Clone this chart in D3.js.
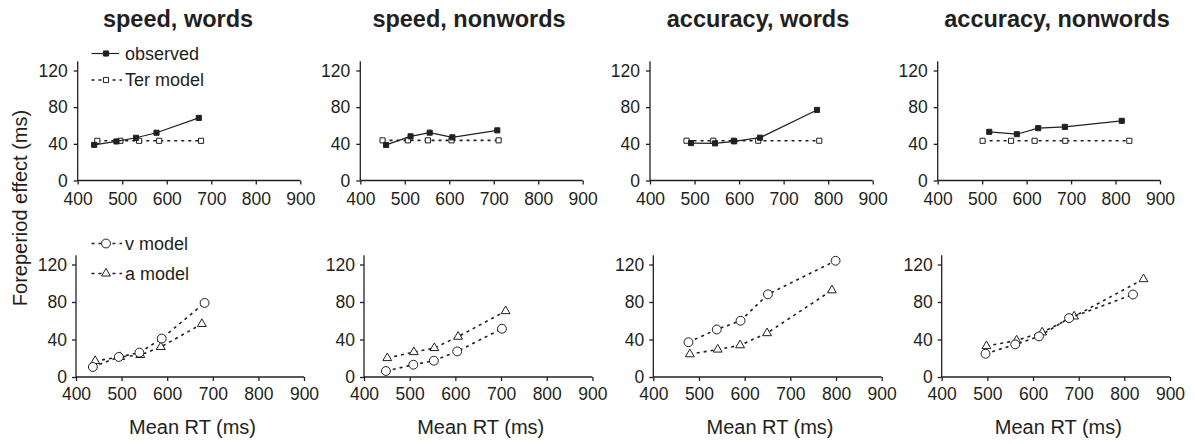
<!DOCTYPE html>
<html><head><meta charset="utf-8">
<script src="https://cdn.jsdelivr.net/npm/d3@7"></script>
<style>
body{margin:0;background:#fff;}
text{font-family:"Liberation Sans",Arial,Helvetica,sans-serif;fill:#231f20;}
</style></head>
<body><svg id="chart" width="1195" height="444"></svg>
<script>
// ---- data ----
const panelTitles = ["speed, words", "speed, nonwords", "accuracy, words", "accuracy, nonwords"];
const xTicks = [400, 500, 600, 700, 800, 900];
const yTicks = [0, 40, 80, 120];
const observedRT = [[437, 487, 531, 577, 672], [458, 513, 556, 607, 708], [492, 546, 589, 647, 775], [516, 578, 626, 686, 814]];
const observedFP = [[38.9, 42.6, 46.6, 52.1, 68.3], [38.8, 48.2, 52.2, 47.1, 54.7], [40.8, 40.5, 42.7, 46.7, 77], [53.1, 50.5, 57.1, 58.5, 65.1]];
const terRT = [[444, 496, 538, 583, 677], [450, 507, 552, 605, 711], [482, 542, 588, 643, 780], [501, 565, 618, 687, 831]];
const terFP = [[43.3, 43.3, 43.3, 43.3, 43.3], [43.8, 43.8, 43.8, 43.8, 43.8], [43.4, 43.4, 43.4, 43.4, 43.4], [43.3, 43.3, 43.3, 43.3, 43.3]];
const vRT = [[437, 494, 539, 588, 682], [448, 508, 553, 604, 702], [477, 539, 591, 651, 799], [496, 561, 613, 679, 819]];
const vFP = [[10.7, 21.4, 26, 41, 79], [6.4, 13.1, 17.4, 27.3, 51.5], [37.1, 50.7, 60, 88.2, 124], [24.8, 34.8, 43.3, 62.8, 88]];
const aRT = [[442, 497, 541, 586, 676], [451, 509, 554, 606, 710], [480, 541, 590, 649, 791], [498, 564, 620, 690, 842]];
const aFP = [[17.1, 21.4, 23.5, 32, 56.6], [20.2, 26.6, 30.9, 43, 70.3], [24.3, 29.3, 33.9, 46.8, 92.5], [33, 39, 47.6, 64.6, 104.4]];

// ---- layout ----
const svg = d3.select("#chart");
const ink = "#231f20";
const topX = [[77.7, 300.3], [360.3, 582.7], [650, 872.7], [937.7, 1160]];
const botX = [[76, 304], [364, 592.4], [653.3, 881.7], [941.7, 1170]];
const topY = [180.5, 70.5];
const botY = [377, 264.5];
const titleX = [178, 469, 758, 1057];

function makeAxes(g, x, y, padX, padY) {
  const xa = g.append("g").attr("transform", `translate(0,${y(0)})`)
    .call(d3.axisBottom(x).tickValues(xTicks).tickSize(4).tickPadding(padX).tickSizeOuter(0));
  const ya = g.append("g").attr("transform", `translate(${x(400)},0)`)
    .call(d3.axisLeft(y).tickValues(yTicks).tickSize(4).tickPadding(padY).tickSizeOuter(0));
  [xa, ya].forEach(a => {
    a.select(".domain").remove();
    a.selectAll("line").attr("stroke", ink).attr("stroke-width", 1.3);
    a.selectAll("text").style("font-size", "17.5px").attr("fill", ink);
  });
  g.append("line").attr("x1", x(400)).attr("x2", x(900)).attr("y1", y(0)).attr("y2", y(0))
    .attr("stroke", ink).attr("stroke-width", 1.3);
  g.append("line").attr("x1", x(400)).attr("x2", x(400)).attr("y1", y(0)).attr("y2", y(130))
    .attr("stroke", ink).attr("stroke-width", 1.3);
}

const line = (x, y) => d3.line().x(d => x(d[0])).y(d => y(d[1]));
const sq = d3.symbol().type(d3.symbolSquare).size(26);
const circ = d3.symbol().type(d3.symbolCircle).size(62);
const tri = d3.symbol().type(d3.symbolTriangle).size(34);

function series(g, x, y, rx, ry, dashed, sym, filled) {
  const pts = rx.map((v, i) => [v, ry[i]]);
  g.append("path").datum(pts).attr("d", line(x, y)).attr("fill", "none")
    .attr("stroke", ink).attr("stroke-width", dashed ? 1.6 : 1.2)
    .attr("stroke-dasharray", dashed ? "3,4" : null);
  g.selectAll(null).data(pts).enter().append("path")
    .attr("d", sym).attr("transform", d => `translate(${x(d[0])},${y(d[1])})`)
    .attr("fill", filled ? ink : "#fff").attr("stroke", ink).attr("stroke-width", 1);
}

panelTitles.forEach((t, i) => {
  svg.append("text").attr("x", titleX[i]).attr("y", 26.5).attr("text-anchor", "middle")
    .style("font-size", "23.5px").style("font-weight", "bold").text(t);

  // top row
  const gt = svg.append("g");
  const xt = d3.scaleLinear().domain([400, 900]).range(topX[i]);
  const yt = d3.scaleLinear().domain([0, 120]).range(topY);
  makeAxes(gt, xt, yt, 8, 6);
  series(gt, xt, yt, terRT[i], terFP[i], true, sq, false);
  series(gt, xt, yt, observedRT[i], observedFP[i], false, sq, true);

  // bottom row
  const gb = svg.append("g");
  const xb = d3.scaleLinear().domain([400, 900]).range(botX[i]);
  const yb = d3.scaleLinear().domain([0, 120]).range(botY);
  makeAxes(gb, xb, yb, 7, 5);
  series(gb, xb, yb, aRT[i], aFP[i], true, tri, false);
  series(gb, xb, yb, vRT[i], vFP[i], true, circ, false);

  svg.append("text").attr("x", (botX[i][0] + botX[i][1]) / 2 + 2.5).attr("y", 434)
    .attr("text-anchor", "middle").style("font-size", "20px").text("Mean RT (ms)");
});

// y axis label
svg.append("text").attr("transform", "translate(27,208) rotate(-90)")
  .attr("text-anchor", "middle").style("font-size", "20px").text("Foreperiod effect (ms)");

// legends
function legendItem(yy, dashed, sym, filled, label) {
  const g = svg.append("g");
  g.append("line").attr("x1", 91.5).attr("x2", dashed ? 122 : 119).attr("y1", yy).attr("y2", yy)
    .attr("stroke", ink).attr("stroke-width", dashed ? 1.6 : 1.2)
    .attr("stroke-dasharray", dashed ? "3,4" : null);
  g.append("path").attr("d", sym).attr("transform", `translate(106,${yy})`)
    .attr("fill", filled ? ink : "#fff").attr("stroke", ink).attr("stroke-width", 1);
  g.append("text").attr("x", 125).attr("y", yy).attr("dy", "0.35em")
    .style("font-size", "18px").text(label);
}
legendItem(53.5, false, sq, true, "observed");
legendItem(80, true, sq, false, "Ter model");
legendItem(243.5, true, circ, false, "v model");
legendItem(273.5, true, tri, false, "a model");
</script></body></html>
